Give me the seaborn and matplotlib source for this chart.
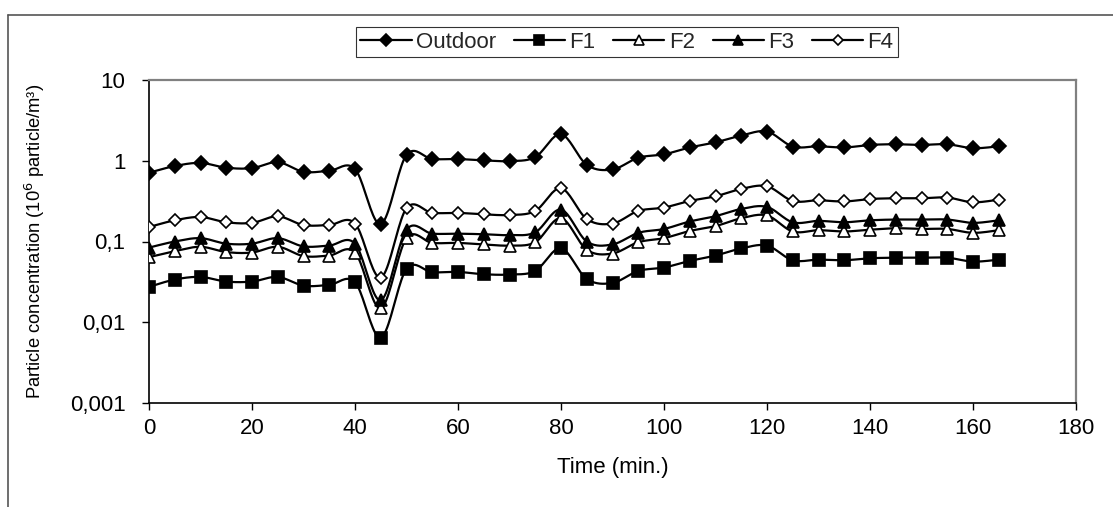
import numpy as np
import pandas as pd
import matplotlib
matplotlib.use("Agg")
import matplotlib.pyplot as plt
from matplotlib.lines import Line2D
import seaborn as sns

# ---- data ----
time = [0, 5, 10, 15, 20, 25, 30, 35, 40, 45, 50, 55, 60, 65, 70, 75, 80,
        85, 90, 95, 100, 105, 110, 115, 120, 125, 130, 135, 140, 145, 150,
        155, 160, 165]
outdoor = [0.71, 0.86, 0.94, 0.82, 0.81, 0.96, 0.73, 0.75, 0.79, 0.164, 1.18,
           1.05, 1.05, 1.01, 0.99, 1.11, 2.13, 0.89, 0.78, 1.09, 1.2, 1.46,
           1.69, 2.05, 2.3, 1.5, 1.51, 1.46, 1.57, 1.6, 1.57, 1.6, 1.43, 1.51]
f1 = [0.0274, 0.0338, 0.0364, 0.0319, 0.0319, 0.0364, 0.0284, 0.029, 0.0313,
      0.00646, 0.0457, 0.0416, 0.042, 0.0393, 0.039, 0.0432, 0.0824, 0.0344,
      0.0307, 0.0432, 0.0476, 0.0575, 0.067, 0.082, 0.089, 0.0586, 0.0596,
      0.0586, 0.062, 0.063, 0.063, 0.063, 0.0564, 0.0596]
f2 = [0.064, 0.076, 0.086, 0.074, 0.073, 0.086, 0.066, 0.067, 0.073, 0.0149,
      0.11, 0.096, 0.096, 0.092, 0.089, 0.098, 0.194, 0.079, 0.071, 0.098,
      0.11, 0.135, 0.155, 0.194, 0.21, 0.133, 0.138, 0.133, 0.14, 0.146,
      0.143, 0.143, 0.128, 0.138]
f3 = [0.084, 0.1, 0.11, 0.094, 0.094, 0.11, 0.087, 0.089, 0.094, 0.0187,
      0.14, 0.125, 0.125, 0.123, 0.12, 0.13, 0.248, 0.1, 0.092, 0.128, 0.143,
      0.177, 0.206, 0.253, 0.268, 0.173, 0.18, 0.173, 0.183, 0.187, 0.187,
      0.187, 0.17, 0.183]
f4 = [0.151, 0.183, 0.201, 0.173, 0.17, 0.205, 0.16, 0.16, 0.167, 0.0357,
      0.258, 0.226, 0.226, 0.217, 0.213, 0.239, 0.456, 0.19, 0.167, 0.239,
      0.263, 0.318, 0.363, 0.448, 0.483, 0.318, 0.324, 0.313, 0.336, 0.343,
      0.343, 0.35, 0.306, 0.33]
series_names = ["Outdoor", "F1", "F2", "F3", "F4"]
x_ticks = [0, 20, 40, 60, 80, 100, 120, 140, 160, 180]
y_ticks = [0.001, 0.01, 0.1, 1, 10]
y_tick_labels = ["0,001", "0,01", "0,1", "1", "10"]

sns.set_theme(style="white")
plt.rcParams['font.family'] = ['Liberation Sans', 'DejaVu Sans']
FS = 16

fig = plt.figure(figsize=(11.13, 5.07), dpi=100)
ax = fig.add_axes([149/1113, 1-403/507, (1076-149)/1113, (403-80)/507])

styles = {
    "Outdoor": dict(marker="D", ms=7.5, mfc="black"),
    "F1": dict(marker="s", ms=8.5, mfc="black"),
    "F2": dict(marker="^", ms=9, mfc="white"),
    "F3": dict(marker="^", ms=9, mfc="black"),
    "F4": dict(marker="D", ms=6.5, mfc="white"),
}
data = {"Outdoor": outdoor, "F1": f1, "F2": f2, "F3": f3, "F4": f4}


def smooth(xs, ys, n=20):
    # Bezier smoothing in (x, log y) space, like Excel smoothed lines
    x = np.asarray(xs, float)
    y = np.log10(np.asarray(ys, float))
    px = np.concatenate([[x[0]], x, [x[-1]]])
    py = np.concatenate([[y[0]], y, [y[-1]]])
    outx, outy = [], []
    for i in range(1, len(px) - 2):
        p0 = np.array([px[i-1], py[i-1]]); p1 = np.array([px[i], py[i]])
        p2 = np.array([px[i+1], py[i+1]]); p3 = np.array([px[i+2], py[i+2]])
        c1 = p1 + (p2 - p0) / 6.0
        c2 = p2 - (p3 - p1) / 6.0
        t = np.linspace(0, 1, n, endpoint=(i == len(px) - 3))[:, None]
        pts = ((1-t)**3)*p1 + 3*((1-t)**2)*t*c1 + 3*(1-t)*t**2*c2 + t**3*p2
        outx.extend(pts[:, 0]); outy.extend(pts[:, 1])
    return np.array(outx), 10**np.array(outy)


handles = []
for name in series_names:
    sx, sy = smooth(time, data[name])
    sm = pd.DataFrame({"x": sx, "y": sy})
    sns.lineplot(data=sm, x="x", y="y", ax=ax, color="black", lw=1.6,
                 sort=False, estimator=None, zorder=2)
    st = styles[name]
    df = pd.DataFrame({"x": time, "y": data[name]})
    sns.lineplot(data=df, x="x", y="y", ax=ax, linestyle="", marker=st["marker"],
                 markersize=st["ms"], markerfacecolor=st["mfc"],
                 markeredgecolor="black", markeredgewidth=1.2, color="black",
                 estimator=None, zorder=3)
    handles.append(Line2D([], [], color="black", lw=1.6, marker=st["marker"],
                          markersize=st["ms"] * 0.85, markerfacecolor=st["mfc"],
                          markeredgecolor="black", markeredgewidth=1.2,
                          label=name))

ax.set_yscale("log")
ax.set_xlim(0, 180)
ax.set_ylim(0.001, 10)
ax.set_xticks(x_ticks)
ax.set_xticklabels([str(v) for v in x_ticks])
ax.set_yticks(y_ticks)
ax.set_yticklabels(y_tick_labels)
ax.yaxis.set_minor_locator(matplotlib.ticker.NullLocator())
ax.tick_params(axis="both", which="major", direction="out", length=5, width=1,
               color="black", labelsize=FS, labelcolor="black",
               left=True, bottom=True)
ax.tick_params(axis="y", pad=12)
ax.tick_params(axis="x", pad=6)
for side in ["left", "bottom"]:
    ax.spines[side].set_color("black")
    ax.spines[side].set_linewidth(1.2)
for side in ["top", "right"]:
    ax.spines[side].set_color("#808080")
    ax.spines[side].set_linewidth(1.6)
ax.set_xlabel("Time (min.)", fontsize=FS, color="black", labelpad=13)
ax.set_ylabel("Particle concentration (10$^{6}$ particle/m³)", fontsize=13.2,
              color="black", labelpad=16)
ax.grid(False)

leg = fig.legend(handles=handles, loc="center", bbox_to_anchor=(627/1113, 1-42/507),
                 ncol=5, fontsize=FS, frameon=True, fancybox=False,
                 edgecolor="black", handlelength=2.3, columnspacing=0.8,
                 handletextpad=0.2, borderpad=0.2, borderaxespad=0)
leg.get_frame().set_linewidth(0.8)

# outer chart border (top and left only visible)
fig.add_artist(Line2D([8/1113, 1], [1-15/507, 1-15/507], color="#555555", lw=1.2,
                      transform=fig.transFigure))
fig.add_artist(Line2D([8/1113, 8/1113], [0, 1-15/507], color="#555555", lw=1.2,
                      transform=fig.transFigure))

fig.savefig("out.png", dpi=100)
